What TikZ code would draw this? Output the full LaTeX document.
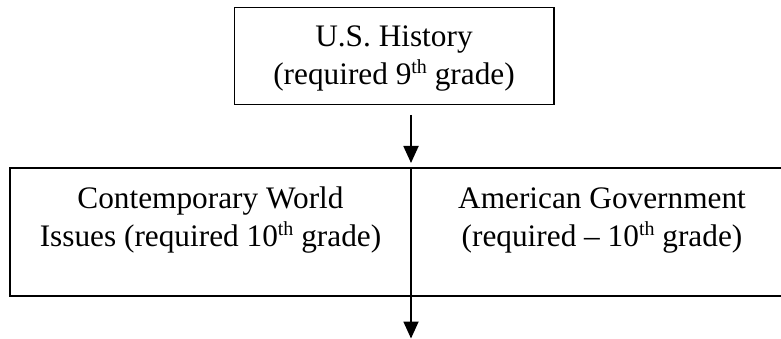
\documentclass[tikz,border=0pt]{standalone}
\usepackage{fontspec}
\setmainfont{Liberation Serif}
\usetikzlibrary{arrows.meta}
\newcommand\mysup[1]{\raisebox{11pt}{\fontsize{20}{20}\selectfont #1}}
\begin{document}
\begin{tikzpicture}[x=1pt,y=-1pt,
  box/.style={draw, line width=1.9pt, rectangle, inner sep=0pt, outer sep=0pt, anchor=north west},
  txt/.style={inner sep=0pt, anchor=base, font=\fontsize{31.3}{38}\selectfont},
  arr/.style={line width=1.8pt, -{Triangle[width=15pt,length=17pt]}}]
\useasboundingbox (0,0) rectangle (781,339);
% top box
\node[box, minimum width=319.5pt, minimum height=97pt] (hist) at (234.5,7.5) {};
\node[txt] (histt) at (394,46.7) {\begin{tabular}[t]{@{}c@{}}U.S. History\\(required 9\mysup{th} grade)\end{tabular}};
% lower cells
\node[box, minimum width=401pt, minimum height=128pt] (cwi) at (10,168) {};
\node[box, minimum width=382pt, minimum height=128pt] (gov) at (411,168) {};
\node[txt] (cwit) at (210.5,208.3) {\begin{tabular}[t]{@{}c@{}}Contemporary World\\Issues (required 10\mysup{th} grade)\end{tabular}};
\node[txt] (govt) at (602,208.3) {\begin{tabular}[t]{@{}c@{}}American Government\\(required -- 10\mysup{th} grade)\end{tabular}};
% arrows
\coordinate (s1) at (411,115);
\coordinate (e2) at (411,338.5);
\draw[arr, shorten >=5pt] (s1) -- (cwi.north east);
\draw[arr] (cwi.south east) -- (e2);
\end{tikzpicture}
\end{document}
